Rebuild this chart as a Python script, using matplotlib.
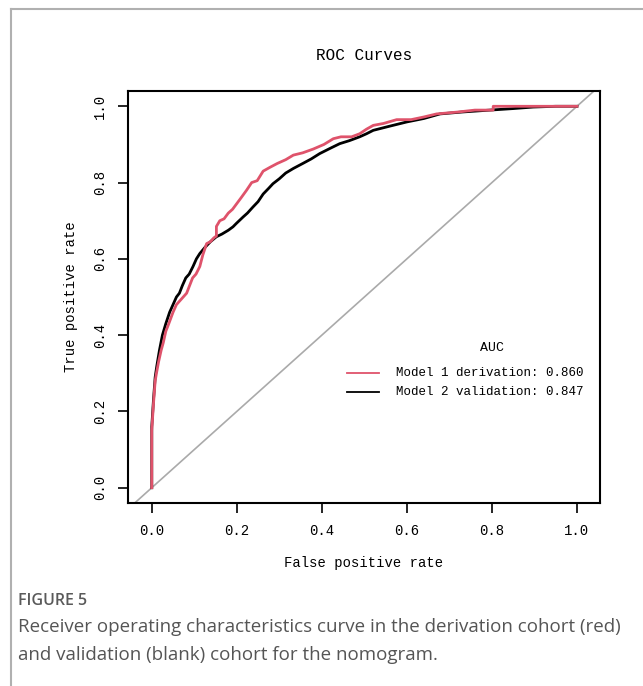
import matplotlib
matplotlib.use("Agg")
import matplotlib.pyplot as plt
from matplotlib.lines import Line2D

# ROC curve points (FPR, TPR)
red_fpr = [0, 0, 0.004, 0.008, 0.011, 0.016, 0.022, 0.027, 0.033, 0.040, 0.050,
           0.058, 0.066, 0.074, 0.082, 0.089, 0.096, 0.104, 0.113, 0.120, 0.129,
           0.138, 0.146, 0.152, 0.152, 0.160, 0.170, 0.180, 0.190, 0.200, 0.210,
           0.223, 0.235, 0.248, 0.262, 0.278, 0.295, 0.315, 0.333, 0.355, 0.380,
           0.405, 0.427, 0.445, 0.470, 0.489, 0.505, 0.521, 0.545, 0.576, 0.610,
           0.640, 0.670, 0.720, 0.760, 0.803, 0.803, 0.900, 1.0]
red_tpr = [0, 0.15, 0.22, 0.28, 0.30, 0.33, 0.36, 0.38, 0.41, 0.43, 0.46,
           0.48, 0.49, 0.50, 0.51, 0.53, 0.55, 0.56, 0.58, 0.61, 0.64,
           0.645, 0.655, 0.66, 0.685, 0.70, 0.705, 0.72, 0.73, 0.745, 0.76,
           0.78, 0.80, 0.805, 0.83, 0.84, 0.85, 0.86, 0.872, 0.878, 0.888,
           0.90, 0.915, 0.92, 0.92, 0.928, 0.94, 0.95, 0.955, 0.965, 0.965,
           0.972, 0.98, 0.985, 0.99, 0.99, 1.0, 1.0, 1.0]

black_fpr = [0, 0, 0.004, 0.008, 0.012, 0.018, 0.025, 0.033, 0.042, 0.050, 0.058,
             0.065, 0.072, 0.080, 0.088, 0.097, 0.105, 0.113, 0.125, 0.138, 0.152,
             0.165, 0.180, 0.191, 0.199, 0.215, 0.225, 0.238, 0.250, 0.262, 0.275,
             0.285, 0.300, 0.315, 0.333, 0.355, 0.375, 0.395, 0.420, 0.442, 0.465,
             0.489, 0.505, 0.521, 0.560, 0.600, 0.640, 0.678, 0.730, 0.795, 0.850,
             0.897, 0.950, 1.0]
black_tpr = [0, 0.16, 0.23, 0.29, 0.32, 0.36, 0.40, 0.43, 0.46, 0.48, 0.50,
             0.51, 0.53, 0.55, 0.56, 0.58, 0.60, 0.614, 0.63, 0.645, 0.658,
             0.665, 0.675, 0.684, 0.693, 0.71, 0.72, 0.736, 0.75, 0.77, 0.785,
             0.797, 0.81, 0.825, 0.837, 0.85, 0.862, 0.876, 0.89, 0.902, 0.91,
             0.92, 0.928, 0.937, 0.948, 0.959, 0.968, 0.98, 0.985, 0.99, 0.994,
             0.998, 1.0, 1.0]

labels = ["Model 1 derivation: 0.860", "Model 2 validation: 0.847"]
ticks = [0.0, 0.2, 0.4, 0.6, 0.8, 1.0]

mono = "Liberation Mono"
red = "#DF536B"

fig = plt.figure(figsize=(6.43, 6.86), dpi=100)
ax = fig.add_axes([0.199, 0.2668, 0.734, 0.6005])

ax.plot([-0.1, 1.1], [-0.1, 1.1], color="#aaaaaa", lw=1.2, zorder=1)
ax.plot(black_fpr, black_tpr, color="black", lw=2, zorder=2)
ax.plot(red_fpr, red_tpr, color=red, lw=2, zorder=3)

ax.set_xlim(-0.056, 1.054)
ax.set_ylim(-0.04, 1.04)
ax.set_xticks(ticks)
ax.set_yticks(ticks)
ax.set_xticklabels([f"{t:.1f}" for t in ticks], fontfamily=mono, fontsize=10)
ax.set_yticklabels([f"{t:.1f}" for t in ticks], fontfamily=mono, fontsize=10,
                   rotation=90, va="center")
ax.tick_params(length=7, width=1.2, pad=8)
for s in ax.spines.values():
    s.set_linewidth(1.5)

ax.set_title("ROC Curves", fontfamily=mono, fontsize=11.5, pad=22)
ax.set_xlabel("False positive rate", fontfamily=mono, fontsize=10, labelpad=13)
ax.set_ylabel("True positive rate", fontfamily=mono, fontsize=10, labelpad=11)

# legend block
ax.text(0.80, 0.365, "AUC", fontfamily=mono, fontsize=9.5, ha="center", va="center")
ax.plot([0.46, 0.535], [0.30, 0.30], color=red, lw=1.3)
ax.plot([0.46, 0.535], [0.25, 0.25], color="black", lw=1.3)
ax.text(0.575, 0.30, labels[0], fontfamily=mono, fontsize=9, va="center")
ax.text(0.575, 0.25, labels[1], fontfamily=mono, fontsize=9, va="center")

# page frame lines
fig.add_artist(Line2D([11 / 643, 1], [1 - 9 / 686, 1 - 9 / 686], color="#b0b0b0", lw=1.5))
fig.add_artist(Line2D([11 / 643, 11 / 643], [0, 1 - 9 / 686], color="#b0b0b0", lw=1.5))

fig.text(18 / 643, 1 - 601 / 686, "FIGURE 5", fontfamily="Open Sans", fontsize=11.5,
         fontweight="semibold", color="#5a5a5a", va="center")
fig.text(18 / 643, 1 - 641 / 686,
         "Receiver operating characteristics curve in the derivation cohort (red)\n"
         "and validation (blank) cohort for the nomogram.",
         fontfamily="Open Sans", fontsize=13.5, color="#555555", va="center",
         linespacing=1.75)

fig.savefig("out.png", dpi=100)
